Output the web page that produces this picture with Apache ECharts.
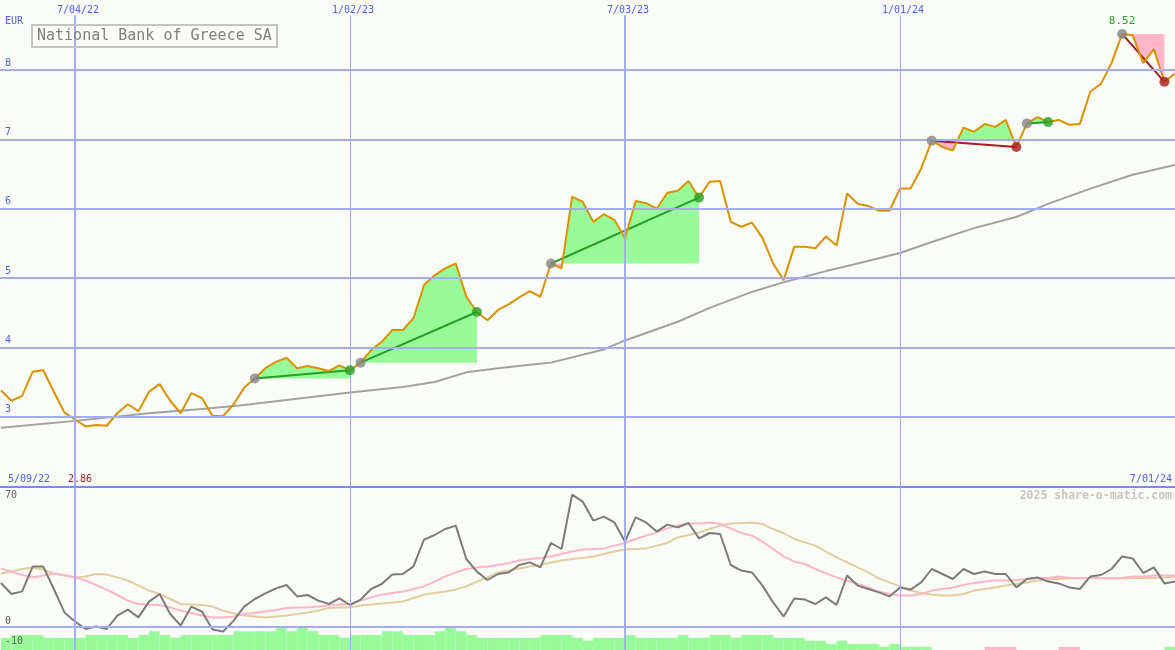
<!DOCTYPE html>
<html><head><meta charset="utf-8">
<script src="https://cdn.jsdelivr.net/npm/echarts@6/dist/echarts.min.js"></script>
<style>html,body{margin:0;padding:0;background:#fafcf8}#c{width:1175px;height:650px}</style>
</head><body><div id="c"></div><script>
// week index 0 = 7/04/22 ; one value per week
const firstWeek = -7;
const tickWeeks = [0, 26, 52, 78];
const tickLabels = ['7/04/22', '1/02/23', '7/03/23', '1/01/24'];
const startLabel = '5/09/22';
const endLabel = '7/01/24';
const currency = 'EUR';
const stockName = 'National Bank of Greece SA';
const priceTicks = [3, 4, 5, 6, 7, 8];
const oscTicksLow = [-10, 0];
const oscTickHigh = [70];

const price = [3.38,3.23,3.30,3.65,3.67,3.36,3.06,
  2.96,2.86,2.88,2.87,3.05,3.18,3.08,3.36,3.47,3.23,
  3.05,3.34,3.27,3.01,3.01,3.18,3.42,3.55,3.70,3.79,
  3.85,3.70,3.73,3.70,3.66,3.74,3.67,3.78,3.96,4.08,
  4.25,4.25,4.42,4.90,5.04,5.14,5.21,4.73,4.51,4.39,
  4.54,4.62,4.72,4.81,4.73,5.21,5.14,6.17,6.10,5.81,
  5.92,5.84,5.57,6.11,6.08,6.00,6.23,6.26,6.40,6.16,
  6.39,6.40,5.81,5.74,5.80,5.58,5.21,4.97,5.45,5.45,
  5.43,5.60,5.47,6.22,6.07,6.04,5.97,5.97,6.29,6.29,
  6.58,6.98,6.89,6.84,7.17,7.11,7.22,7.18,7.28,6.89,
  7.23,7.32,7.25,7.28,7.21,7.22,7.69,7.80,8.10,8.52,
  8.50,8.10,8.30,7.83,7.95];

const maWeeks = [-7,0,7,12,16,21,26,31,34,37,40,43,45,50,52,57,60,64,67,71,74,78,81,85,89,92,96,100,104];
const maValues = [2.84,2.94,3.05,3.11,3.17,3.26,3.35,3.43,3.50,3.64,3.70,3.75,3.78,3.97,4.10,4.37,4.57,4.80,4.94,5.10,5.21,5.36,5.52,5.72,5.88,6.07,6.29,6.49,6.63];

// [start week, end week] of the marked moves
const patterns = [[17,26],[27,38],[45,59],[81,89],[90,92],[99,103]];

const osc = [22,16.5,17.8,30.2,30.2,19,7.3,
  2.7,-1,0.2,-1,5.7,8.7,4.8,12.7,16.5,6.5,
  0.7,10.2,7.7,-1.3,-2.3,3.2,10.2,14,16.8,19.3,
  21,15.3,16,13.2,11.5,14.3,11,13.7,19,21.5,
  26.2,26.5,30.3,43.7,46,49,50.7,34,27.7,23.5,
  26.5,27.3,31,32.3,29.8,42,39,66.2,62.7,53.2,
  55.2,52.3,42.7,54.8,52.3,47.7,51.2,49.8,52,44.3,
  47,46.5,31,28.2,27.3,20.7,12.3,5.3,14.3,13.7,
  11.5,14.8,11,25.7,20.7,19,17.3,15.3,19.8,18.7,
  22.3,29,26.5,24,29,26.5,27.7,26.5,26.5,19.8,
  24,24.8,22.7,21.8,19.8,19,25.3,26,29,35.3,
  34.3,27,29.8,21.8,22.7];

const oscFast = [29.3,27.7,26,24.8,25.7,26.8,26,24.8,23.2,21,18.7,16,13.2,11.5,11.2,11,9.8,8.2,7,5.7,4.8,4.8,5.3,6.5,7,7.7,8.5,9.5,9.8,9.8,10.3,10.7,11.2,11.5,13.2,14.8,16.2,17,
  17.7,19,20.3,22.7,25.3,27.3,29,29.8,30.3,31,32,33.2,34,34.5,35.3,36.5,37.7,38.7,39,39.3,40.7,42,44,45.7,47.3,49.3,50.7,51.8,51.8,52.3,51.5,49.3,47,45.7,42.7,39,35.3,32.7,
  31.5,29,26.8,24.8,23.2,21.5,19.8,17.7,16.5,15.7,15.7,16.5,18.2,19,19.8,21,22,22.7,23.2,23.2,23.5,24,24.5,24.5,25.2,24.5,24.5,24.5,24.5,24.5,24.5,25.2,25.2,25.7,25.7,25.7];

const oscSlow = [26.8,27.7,29,29.8,28.7,26.8,25.7,24.8,25.3,26.5,26.2,24.8,23.2,20.7,18.2,16.5,14,11.5,11.2,11,10.2,8.2,6.8,5.7,5.3,4.8,5.2,5.7,6.5,7.3,8.2,9.5,9.8,9.8,10.7,11.2,11.8,12.3,
  12.7,14.5,16.2,17,17.7,18.7,20.3,22.7,24.8,27.3,28.2,29.3,30.3,31,32.3,33.2,34,34.5,35.3,36.5,37.7,38.7,39,39.3,40.7,42,44.8,46,47.3,49,50.7,51.8,52,52.3,51.5,49,47,44,
  42.3,40.7,37.7,34.8,32.3,29.8,27.3,24.3,22.3,20.3,18.2,17,16.2,15.7,15.7,16.5,18.2,19,19.8,20.7,21.5,22.3,23.2,23.7,24,24.3,24.5,24.5,24.5,24.3,24.3,24.5,24.5,24.5,24.8,25.2];

// one bar per week span [k, k+1]; negative = pink
const histogram = [3.8,4.7,4.7,4.7,3.8,3.8,3.8,
  3.8,4.7,4.7,4.7,4.7,3.8,4.7,5.9,4.7,3.8,
  4.7,4.7,4.7,4.7,4.7,5.9,5.9,5.9,5.9,7,
  5.9,7,5.9,4.7,4.7,3.8,4.7,4.7,4.7,5.9,
  5.9,4.7,4.7,4.7,5.9,7,5.9,4.7,3.8,3.8,
  3.8,3.8,3.8,3.8,4.7,4.7,4.7,3.8,2.9,3.8,
  3.8,3.8,4.7,3.8,3.8,3.8,3.8,4.7,3.8,3.8,
  4.7,4.7,3.8,4.7,4.7,4.7,3.8,3.8,3.8,2.9,
  2.9,1.9,2.9,1.9,1.9,1.9,1,1.9,1,1,
  1,0,0,0,0,0,-1,-1,-1,0,
  0,0,0,-1,-1,0,0,0,0,0,
  0,0,0,1];

const W0 = firstWeek;
const P = k => price[k - W0];
const MONO = 'DejaVu Sans Mono';
const BLUE = '#4d5df0';
const GRID = '#a4adf4';
const GREEN_FILL = '#98fb98', PINK_FILL = '#ffb6c6';
const UP = '#25a025', DOWN = '#a81c1c';

function fillRuns(s, e) {
  const b = P(s);
  const runs = [];
  let pts = [[s, b]];
  for (let k = s; k <= e; k++) {
    const v = P(k);
    if (k > s) {
      const d0 = P(k - 1) - b, d1 = v - b;
      if (d0 * d1 < 0) {
        const xc = (k - 1) + d0 / (d0 - d1);
        pts.push([xc, b]);
        runs.push({ up: d0 > 0, pts });
        pts = [[xc, b]];
      }
    }
    pts.push([k, v]);
  }
  pts.push([e, b]);
  let sum = 0; pts.forEach(q => sum += q[1] - b);
  runs.push({ up: sum >= 0, pts });
  return runs;
}

const xMin = -7.09, xMax = 104;
const topCut = 8.788;
const oscMin = -11.5, oscMax = 70;

const chart = echarts.init(document.getElementById('c'));
const hLines = priceTicks.map(v => ({ yAxis: v, lineStyle: { color: GRID, width: 2, type: 'solid' } }));
const vLinesTop = tickWeeks.map(w => [
  { coord: [w, topCut], lineStyle: { color: GRID, width: (w % 52 === 0) ? 2 : 1, type: 'solid' } },
  { coord: [w, 2] }]);
const vLinesBot = tickWeeks.map(w => [
  { coord: [w, oscMax], lineStyle: { color: GRID, width: (w % 52 === 0) ? 2 : 1, type: 'solid' } },
  { coord: [w, oscMin] }]);

function oscLabelAxis(values, va, pad) {
  return { type: 'value', gridIndex: 1, min: oscMin, max: oscMax, position: 'left', z: 20,
    axisLine: { show: false }, axisTick: { show: false }, splitLine: { show: false },
    axisLabel: { inside: true, margin: 5, verticalAlign: va, customValues: values,
      showMinLabel: true, showMaxLabel: true, hideOverlap: false,
      padding: pad, color: '#606060', fontFamily: MONO, fontSize: 10 } };
}

const option = {
  animation: false,
  backgroundColor: '#fafcf8',
  title: {
    text: stockName, left: 32, top: 25, padding: [4, 5, 3, 5],
    borderWidth: 2, borderColor: '#c4c4c4',
    textStyle: { fontFamily: MONO, fontSize: 15, fontWeight: 'normal', color: '#808080' }
  },
  grid: [
    { left: 0, right: 0, top: 0.66, height: 485.4 },
    { left: 0, right: 0, top: 487, height: 163 }
  ],
  xAxis: [
    { type: 'value', gridIndex: 0, min: xMin, max: xMax, position: 'top', z: 20,
      axisLine: { show: false }, axisTick: { show: false }, splitLine: { show: false },
      axisLabel: { inside: true, margin: 5, verticalAlign: 'top', customValues: tickWeeks,
        padding: [0, 0, 0, 6],
        formatter: v => tickLabels[tickWeeks.indexOf(v)] || '',
        color: BLUE, fontFamily: MONO, fontSize: 10 } },
    { type: 'value', gridIndex: 1, min: xMin, max: xMax, show: false, splitLine: { show: false } }
  ],
  yAxis: [
    { type: 'value', gridIndex: 0, min: 2, max: 9, position: 'left', z: 20,
      axisLine: { show: false }, axisTick: { show: false }, splitLine: { show: false },
      axisLabel: { inside: true, margin: 5, verticalAlign: 'bottom', customValues: priceTicks,
        padding: [0, 0, 2, 0], color: BLUE, fontFamily: MONO, fontSize: 10 } },
    oscLabelAxis(oscTicksLow, 'bottom', [0, 0, 1, 0]),
    oscLabelAxis(oscTickHigh, 'top', [3, 0, 0, 0]),
    { type: 'value', gridIndex: 1, min: 0, max: 51.1, show: false, splitLine: { show: false } }
  ],
  series: [
    { type: 'custom', name: 'fills', xAxisIndex: 0, yAxisIndex: 0, z: 1, silent: true,
      data: patterns.map(p => [p[0], P(p[0]), p[1]]), encode: { x: 0, y: 1 },
      renderItem: (params, api) => {
        const p = patterns[params.dataIndex];
        return { type: 'group', children: fillRuns(p[0], p[1]).map(r => ({
          type: 'polygon', shape: { points: r.pts.map(q => api.coord(q)) },
          style: { fill: r.up ? GREEN_FILL : PINK_FILL, stroke: null } })) };
      } },
    { type: 'line', name: 'ma', xAxisIndex: 0, yAxisIndex: 0, z: 2, silent: true,
      data: maWeeks.map((w, i) => [w, maValues[i]]), symbol: 'none',
      lineStyle: { color: '#a2a2a2', width: 2 },
      markLine: { silent: true, symbol: ['none', 'none'], label: { show: false },
        data: [...hLines, ...vLinesTop] } },
    { type: 'custom', name: 'trend', xAxisIndex: 0, yAxisIndex: 0, z: 3, silent: true,
      data: patterns.map(p => [p[0], P(p[0]), p[1]]), encode: { x: 0, y: 1 },
      renderItem: (params, api) => {
        const p = patterns[params.dataIndex];
        const a = api.coord([p[0], P(p[0])]), b = api.coord([p[1], P(p[1])]);
        return { type: 'line', shape: { x1: a[0], y1: a[1], x2: b[0], y2: b[1] },
          style: { stroke: P(p[1]) >= P(p[0]) ? UP : DOWN, lineWidth: 2 } };
      } },
    { type: 'line', name: 'price', xAxisIndex: 0, yAxisIndex: 0, z: 4, silent: true,
      data: price.map((v, i) => [W0 + i, v]), symbol: 'none',
      lineStyle: { color: '#dc9200', width: 2 },
      markPoint: { symbol: 'circle', symbolSize: 1, itemStyle: { color: 'rgba(0,0,0,0)' },
        label: { position: 'top', distance: 7, color: UP, fontFamily: MONO, fontSize: 11, formatter: p => p.value.toFixed(2) },
        data: [{ type: 'max' }] } },
    { type: 'scatter', name: 'starts', xAxisIndex: 0, yAxisIndex: 0, z: 5, silent: true,
      symbolSize: 10, itemStyle: { color: '#858585' },
      data: patterns.map(p => [p[0], P(p[0])]) },
    { type: 'scatter', name: 'endsUp', xAxisIndex: 0, yAxisIndex: 0, z: 5, silent: true,
      symbolSize: 10, itemStyle: { color: UP },
      data: patterns.filter(p => P(p[1]) >= P(p[0])).map(p => [p[1], P(p[1])]) },
    { type: 'scatter', name: 'endsDown', xAxisIndex: 0, yAxisIndex: 0, z: 5, silent: true,
      symbolSize: 10, itemStyle: { color: DOWN },
      data: patterns.filter(p => P(p[1]) < P(p[0])).map(p => [p[1], P(p[1])]) },

    { type: 'custom', name: 'hist', xAxisIndex: 1, yAxisIndex: 3, z: 1, silent: true,
      data: histogram.map((v, i) => [W0 + i, Math.abs(v), v]), encode: { x: 0, y: 1 },
      renderItem: (params, api) => {
        const v = api.value(2);
        if (!v) return null;
        const k = api.value(0);
        const a = api.coord([k, Math.abs(v)]), b = api.coord([k + 1, 0]);
        return { type: 'rect', shape: { x: a[0], y: a[1], width: b[0] - a[0], height: b[1] - a[1] },
          style: { fill: v > 0 ? GREEN_FILL : PINK_FILL } };
      } },
    { type: 'line', name: 'slow', xAxisIndex: 1, yAxisIndex: 1, z: 2, silent: true,
      data: oscSlow.map((v, i) => [W0 + i, v]), symbol: 'none',
      lineStyle: { color: '#e6cc9c', width: 2 },
      markLine: { silent: true, symbol: ['none', 'none'], label: { show: false },
        data: [
          { yAxis: oscMax, lineStyle: { color: '#7d89ee', width: 2, type: 'solid' } },
          { yAxis: 0, lineStyle: { color: GRID, width: 2, type: 'solid' } },
          ...vLinesBot] } },
    { type: 'line', name: 'fast', xAxisIndex: 1, yAxisIndex: 1, z: 3, silent: true,
      data: oscFast.map((v, i) => [W0 + i, v]), symbol: 'none',
      lineStyle: { color: '#ffb4c8', width: 2 } },
    { type: 'line', name: 'osc', xAxisIndex: 1, yAxisIndex: 1, z: 4, silent: true,
      data: osc.map((v, i) => [W0 + i, v]), symbol: 'none',
      lineStyle: { color: '#7c7c7c', width: 2 } }
  ],
  graphic: [
    { type: 'text', left: 5, top: 16, silent: true, style: { text: currency, fill: BLUE, font: '10px "DejaVu Sans Mono"' } },
    { type: 'text', left: 8, top: 474, silent: true, style: { text: startLabel, fill: BLUE, font: '10px "DejaVu Sans Mono"' } },
    { type: 'text', left: 68, top: 474, silent: true, style: { text: Math.min(...price).toFixed(2), fill: '#a01c1c', font: '10px "DejaVu Sans Mono"' } },
    { type: 'text', right: 3, top: 474, silent: true, style: { text: endLabel, fill: BLUE, font: '10px "DejaVu Sans Mono"' } },
    { type: 'text', right: 3, top: 490, silent: true, style: { text: '2025 share-o-matic.com', fill: '#c6c6c6', font: 'bold 11.5px "DejaVu Sans Mono"' } }
  ]
};
chart.setOption(option);
</script></body></html>
